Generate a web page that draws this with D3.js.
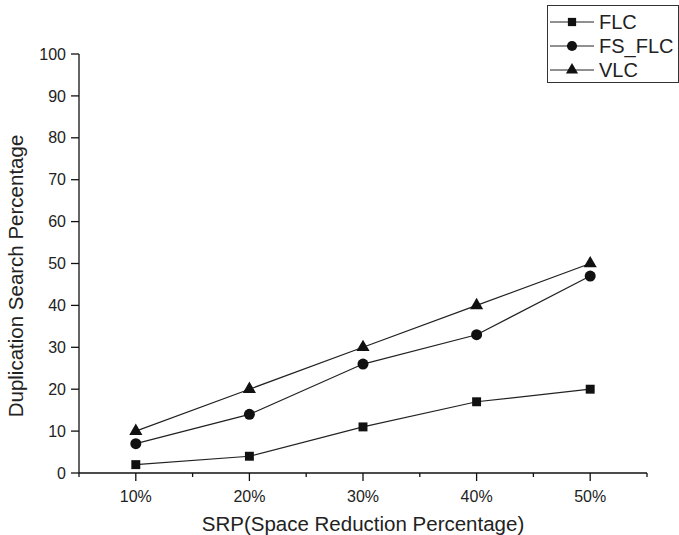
<!DOCTYPE html>
<html>
<head>
<meta charset="utf-8">
<script src="https://cdn.jsdelivr.net/npm/d3@7"></script>
<style>
  body { margin: 0; background: #fff; }
  svg { font-family: "Liberation Sans", Arial, sans-serif; }
</style>
</head>
<body>
<div id="chart"></div>
<script>
// SRP categories (x) and duplication search percentages (y)
var categories = [10, 20, 30, 40, 50];
var flc = [2, 4, 11, 17, 20];
var fsFlc = [7, 14, 26, 33, 47];
var vlc = [10, 20, 30, 40, 50];
var yTicks = [0, 10, 20, 30, 40, 50, 60, 70, 80, 90, 100];

var w = 679;
var h = 535;

var series = [
  {name: 'FLC', values: flc, symbol: d3.symbolSquare, size: 80},
  {name: 'FS_FLC', values: fsFlc, symbol: d3.symbolCircle, size: 95},
  {name: 'VLC', values: vlc, symbol: d3.symbolTriangle, size: 75}
];

var svg = d3.select('#chart').append('svg')
  .attr('width', w)
  .attr('height', h);

var x = d3.scaleLinear().domain([5, 55]).range([79, 647]);
var y = d3.scaleLinear().domain([0, 100]).range([473, 54]);

// x axis: major ticks at 10%, minor at 5%
var xAxis = svg.append('g')
  .attr('transform', 'translate(0,' + y(0) + ')');
xAxis.append('line')
  .attr('x1', x(5)).attr('x2', x(55))
  .attr('stroke', '#111').attr('stroke-width', 1.3);
xAxis.selectAll('.minor')
  .data(d3.range(5, 56, 10))
  .enter().append('line')
  .attr('x1', function(d) { return x(d); })
  .attr('x2', function(d) { return x(d); })
  .attr('y2', 4)
  .attr('stroke', '#111').attr('stroke-width', 1.3);
xAxis.selectAll('.major')
  .data(categories)
  .enter().append('line')
  .attr('x1', function(d) { return x(d); })
  .attr('x2', function(d) { return x(d); })
  .attr('y2', 8)
  .attr('stroke', '#111').attr('stroke-width', 1.3);
xAxis.selectAll('text')
  .data(categories)
  .enter().append('text')
  .attr('x', function(d) { return x(d); })
  .attr('y', 29)
  .attr('text-anchor', 'middle')
  .attr('font-size', 16)
  .attr('fill', '#222')
  .text(function(d) { return d + '%'; });

// y axis
var yAxis = svg.append('g')
  .attr('transform', 'translate(' + x(5) + ',0)');
yAxis.append('line')
  .attr('y1', y(0)).attr('y2', y(100))
  .attr('stroke', '#111').attr('stroke-width', 1.3);
yAxis.selectAll('.tick')
  .data(yTicks)
  .enter().append('line')
  .attr('y1', function(d) { return y(d); })
  .attr('y2', function(d) { return y(d); })
  .attr('x2', -8)
  .attr('stroke', '#111').attr('stroke-width', 1.3);
yAxis.selectAll('text')
  .data(yTicks)
  .enter().append('text')
  .attr('x', -13)
  .attr('y', function(d) { return y(d); })
  .attr('dy', '0.35em')
  .attr('text-anchor', 'end')
  .attr('font-size', 16)
  .attr('fill', '#222')
  .text(function(d) { return d; });

// axis titles
svg.append('text')
  .attr('transform', 'translate(23,276) rotate(-90)')
  .attr('text-anchor', 'middle')
  .attr('font-size', 20.5)
  .attr('fill', '#222')
  .text('Duplication Search Percentage');

svg.append('text')
  .attr('x', (x(5) + x(55)) / 2)
  .attr('y', 531)
  .attr('text-anchor', 'middle')
  .attr('font-size', 20.5)
  .attr('fill', '#222')
  .text('SRP(Space Reduction Percentage)');

// lines + markers
var line = d3.line()
  .x(function(d, i) { return x(categories[i]); })
  .y(function(d) { return y(d); });

series.forEach(function(s) {
  svg.append('path')
    .datum(s.values)
    .attr('d', line)
    .attr('fill', 'none')
    .attr('stroke', '#222')
    .attr('stroke-width', 1.2);
  svg.selectAll(null)
    .data(s.values)
    .enter().append('path')
    .attr('d', d3.symbol().type(s.symbol).size(s.size))
    .attr('transform', function(d, i) {
      return 'translate(' + x(categories[i]) + ',' + y(d) + ')';
    })
    .attr('fill', '#111');
});

// legend
var legend = svg.append('g');
legend.append('rect')
  .attr('x', 547.5).attr('y', 5.5)
  .attr('width', 131).attr('height', 77)
  .attr('fill', '#fff')
  .attr('stroke', '#333').attr('stroke-width', 1);

var rows = legend.selectAll('.row')
  .data(series)
  .enter().append('g')
  .attr('transform', function(d, i) { return 'translate(0,' + (22 + i * 24) + ')'; });
rows.append('line')
  .attr('x1', 550).attr('x2', 594)
  .attr('stroke', '#222').attr('stroke-width', 1.2);
rows.append('path')
  .attr('d', function(d) { return d3.symbol().type(d.symbol).size(d.size * 0.85)(); })
  .attr('transform', 'translate(572,0)')
  .attr('fill', '#111');
rows.append('text')
  .attr('x', 599)
  .attr('dy', '0.36em')
  .attr('font-size', 20)
  .attr('fill', '#222')
  .text(function(d) { return d.name; });
</script>
</body>
</html>
